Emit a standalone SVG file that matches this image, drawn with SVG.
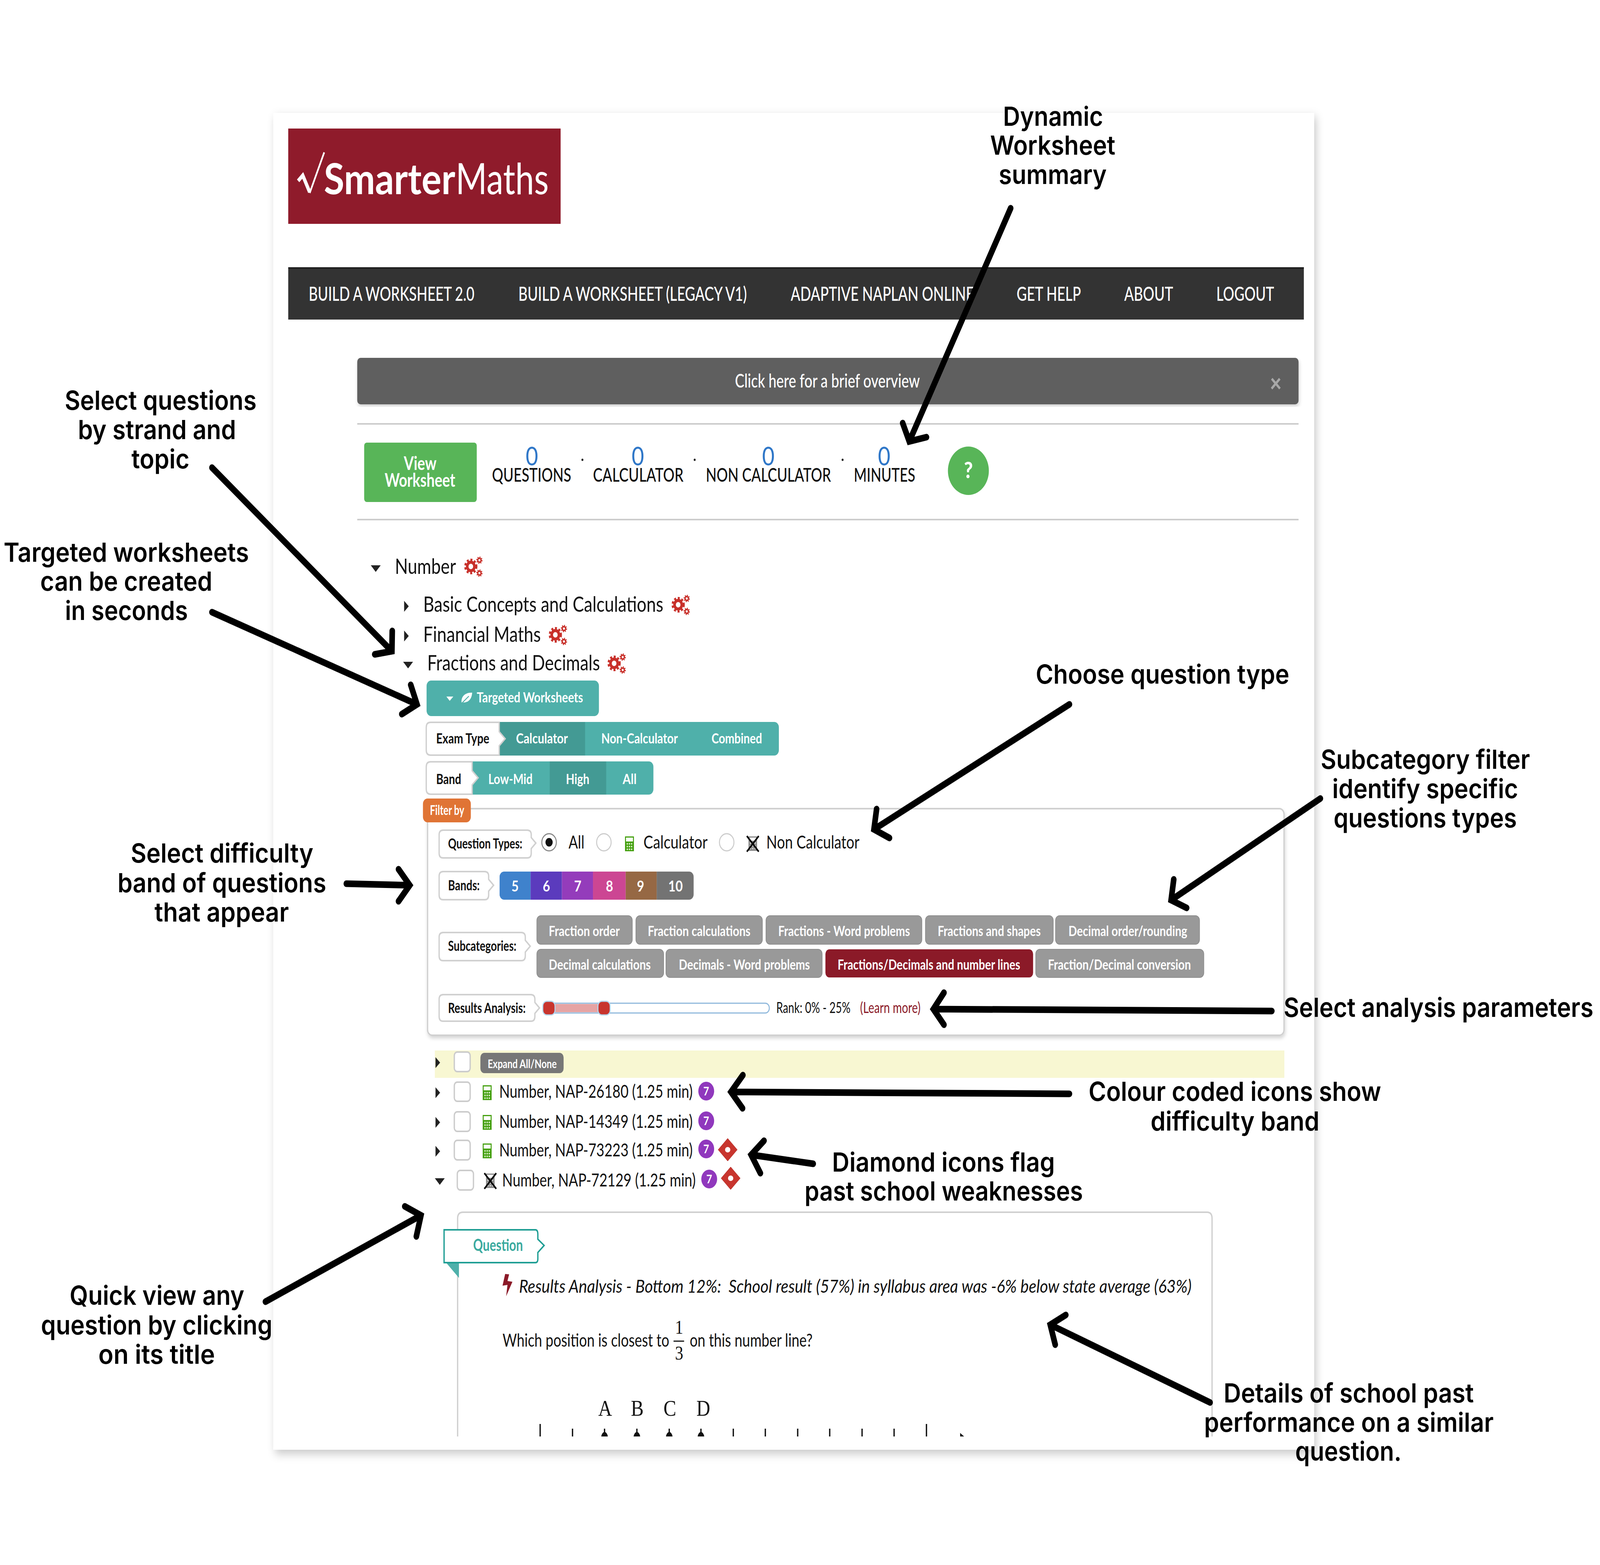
<svg xmlns="http://www.w3.org/2000/svg" width="4846" height="4006" viewBox="0 0 4846 4006" preserveAspectRatio="none">
<style>
svg{width:100vw;height:100vh;display:block}
text{font-family:"Lato","Liberation Sans",sans-serif;fill:#111}
.ann{font-family:"Inter","Open Sans",sans-serif;font-weight:600;font-size:68px;fill:#000}
.nav{font-size:50px;fill:#fff;font-weight:500}
.lab{font-size:49px;font-weight:500}
.num{font-size:65px;fill:#2f77c8;text-anchor:middle}
.tree{font-size:55px}
.tb{font-size:37px;font-weight:700;fill:#fff}
.tag{font-size:36px;font-weight:700;fill:#111}
.opt{font-size:46px}
.pill{font-size:37px;font-weight:700;fill:#fff}
.row{font-size:46px}
.q{font-size:47px}
.math{font-family:"Liberation Serif",serif;text-anchor:middle}
.band{font-size:38px;font-weight:700;fill:#fff;text-anchor:middle}
.seven{font-size:30px;font-weight:700;fill:#fff;text-anchor:middle}
.arw{fill:none;stroke:#000;stroke-width:17;stroke-linecap:round;stroke-linejoin:miter;stroke-miterlimit:8}
.gp{fill:#999;stroke:#8c8c8c;stroke-width:2}
.tagbox{fill:#fff;stroke:#d0d0d0;stroke-width:4}
.cb{fill:#fff;stroke:#ccc;stroke-width:4}
.rad{fill:#fff;stroke:#ccc;stroke-width:3}
.tri{fill:#222}
.tick{stroke:#111;stroke-width:4;fill:none}
.rule{stroke:#ccc;stroke-width:4}
</style>
<defs>
<filter id="pageShadow" x="-3%" y="-3%" width="106%" height="106%"><feDropShadow dx="6" dy="10" stdDeviation="12" flood-color="#000" flood-opacity="0.22"/></filter>
<filter id="softShadow" x="-3%" y="-5%" width="106%" height="110%"><feDropShadow dx="2" dy="6" stdDeviation="5" flood-color="#000" flood-opacity="0.16"/></filter>
<clipPath id="bandClip"><rect x="1513" y="2231" width="588" height="72" rx="14"/></clipPath>
<g id="gears">
<circle cx="20" cy="25" r="11" fill="none" stroke="#c8302a" stroke-width="8"/>
<circle cx="20" cy="25" r="17" fill="none" stroke="#c8302a" stroke-width="6" stroke-dasharray="6 5.2"/>
<circle cx="46" cy="9" r="5" fill="none" stroke="#c8302a" stroke-width="4"/>
<circle cx="46" cy="9" r="8" fill="none" stroke="#c8302a" stroke-width="3" stroke-dasharray="3 3.3"/>
<circle cx="46" cy="42" r="5" fill="none" stroke="#c8302a" stroke-width="4"/>
<circle cx="46" cy="42" r="8" fill="none" stroke="#c8302a" stroke-width="3" stroke-dasharray="3 3.3"/>
</g>
<g id="calc">
<rect x="1" y="1" width="27" height="38" fill="#45a010"/>
<rect x="4" y="4" width="21" height="10" fill="#fff"/>
<g fill="#d8efc8"><circle cx="8" cy="20" r="2.2"/><circle cx="14.500" cy="20" r="2.2"/><circle cx="21" cy="20" r="2.2"/><circle cx="8" cy="27" r="2.2"/><circle cx="14.500" cy="27" r="2.2"/><circle cx="21" cy="27" r="2.2"/><circle cx="8" cy="34" r="2.2"/><circle cx="14.500" cy="34" r="2.2"/><circle cx="21" cy="34" r="2.2"/></g>
</g>
<g id="xcalc">
<rect x="8" y="2" width="26" height="37" fill="#8a8a8a"/>
<rect x="11" y="5" width="20" height="8" fill="#fff"/>
<g fill="#ddd"><circle cx="14" cy="19" r="2"/><circle cx="21" cy="19" r="2"/><circle cx="28" cy="19" r="2"/><circle cx="14" cy="26" r="2"/><circle cx="21" cy="26" r="2"/><circle cx="28" cy="26" r="2"/><circle cx="14" cy="33" r="2"/><circle cx="21" cy="33" r="2"/><circle cx="28" cy="33" r="2"/></g>
<path d="M3 1L39 41M39 1L3 41" stroke="#000" stroke-width="4.500" fill="none"/>
</g>
<g id="badge7"><circle r="24" fill="#9038bd"/><text class="seven" y="11">7</text></g>
<g id="diamond"><path d="M0-29L29 0L0 29L-29 0Z" fill="#c8352e" stroke="#b02a25" stroke-width="1"/><ellipse rx="8" ry="7" fill="#fff"/></g>
<path id="triR" class="tri" d="M0-14L14 0L0 14Z"/>
<path id="triD" class="tri" d="M-15-8H15L0 9Z"/>
</defs>

<rect width="4846" height="4006" fill="#fff"/>
<rect id="page" x="828" y="289" width="3152" height="3422" fill="#fff" filter="url(#pageShadow)"/>

<g id="logo">
<rect x="873" y="329" width="825" height="244" fill="#8f1b2b"/>
<path d="M903 463L917 449L938 492" fill="none" stroke="#fff" stroke-width="10"/>
<path d="M938 494L982 390" fill="none" stroke="#fff" stroke-width="5"/>
<text x="981" y="497" font-size="110" font-weight="700" style="fill:#fff" textLength="398" lengthAdjust="spacingAndGlyphs">Smarter</text>
<text x="1380" y="497" font-size="110" font-weight="400" style="fill:#fff" textLength="282" lengthAdjust="spacingAndGlyphs">Maths</text>
</g>

<g id="navbar">
<rect x="873" y="684" width="3076" height="134" fill="#333"/>
<rect x="873" y="684" width="3076" height="4" fill="#1e1e1e"/>
<text class="nav" x="935" y="770" textLength="502" lengthAdjust="spacingAndGlyphs">BUILD A WORKSHEET 2.0</text>
<text class="nav" x="1570" y="770" textLength="692" lengthAdjust="spacingAndGlyphs">BUILD A WORKSHEET (LEGACY V1)</text>
<text class="nav" x="2395" y="770" textLength="555" lengthAdjust="spacingAndGlyphs">ADAPTIVE NAPLAN ONLINE</text>
<text class="nav" x="3079" y="770" textLength="195" lengthAdjust="spacingAndGlyphs">GET HELP</text>
<text class="nav" x="3405" y="770" textLength="148" lengthAdjust="spacingAndGlyphs">ABOUT</text>
<text class="nav" x="3684" y="770" textLength="175" lengthAdjust="spacingAndGlyphs">LOGOUT</text>
</g>

<g id="overview">
<rect x="1082" y="916" width="2851" height="119" rx="10" fill="#5e5e5e" filter="url(#softShadow)"/>
<text x="2226" y="992" font-size="48" font-weight="500" style="fill:#fff" textLength="560" lengthAdjust="spacingAndGlyphs">Click here for a brief overview</text>
<text x="3864" y="1003" font-size="62" font-weight="900" style="fill:#a8a8a8;text-anchor:middle">×</text>
</g>
<line class="rule" x1="1082" y1="1085" x2="3933" y2="1085"/>
<line class="rule" x1="1082" y1="1330" x2="3933" y2="1330"/>

<g id="summary">
<rect x="1103" y="1133" width="341" height="152" rx="8" fill="#58b558"/>
<text x="1223" y="1203" font-size="48" font-weight="700" style="fill:#fff" textLength="99" lengthAdjust="spacingAndGlyphs">View</text>
<text x="1165" y="1246" font-size="48" font-weight="700" style="fill:#fff" textLength="214" lengthAdjust="spacingAndGlyphs">Worksheet</text>
<text class="num" x="1611" y="1191">0</text>
<text class="num" x="1932" y="1191">0</text>
<text class="num" x="2327" y="1191">0</text>
<text class="num" x="2678" y="1191">0</text>
<text class="lab" x="1490" y="1233" textLength="240" lengthAdjust="spacingAndGlyphs">QUESTIONS</text>
<text class="lab" x="1796" y="1233" textLength="274" lengthAdjust="spacingAndGlyphs">CALCULATOR</text>
<text class="lab" x="2138" y="1233" textLength="379" lengthAdjust="spacingAndGlyphs">NON CALCULATOR</text>
<text class="lab" x="2586" y="1233" textLength="186" lengthAdjust="spacingAndGlyphs">MINUTES</text>
<circle cx="1764" cy="1177" r="3" fill="#222"/>
<circle cx="2104" cy="1177" r="3" fill="#222"/>
<circle cx="2552" cy="1177" r="3" fill="#222"/>
<circle cx="2933" cy="1205" r="62" fill="#58b558"/>
<text x="2933" y="1224" font-size="58" font-weight="900" style="fill:#fff;text-anchor:middle">?</text>
</g>

<g id="tree">
<use href="#triD" x="1138" y="1455"/>
<text class="tree" x="1196" y="1469" textLength="185" lengthAdjust="spacingAndGlyphs">Number</text>
<use href="#gears" x="1406" y="1425"/>
<use href="#triR" x="1224" y="1552"/>
<text class="tree" x="1282" y="1566" textLength="727" lengthAdjust="spacingAndGlyphs">Basic Concepts and Calculations</text>
<use href="#gears" x="2034" y="1523"/>
<use href="#triR" x="1224" y="1628"/>
<text class="tree" x="1282" y="1643" textLength="356" lengthAdjust="spacingAndGlyphs">Financial Maths</text>
<use href="#gears" x="1662" y="1600"/>
<use href="#triD" x="1236" y="1702"/>
<text class="tree" x="1294" y="1716" textLength="523" lengthAdjust="spacingAndGlyphs">Fractions and Decimals</text>
<use href="#gears" x="1840" y="1673"/>
</g>

<g id="targeted">
<rect x="1292" y="1742" width="522" height="91" rx="14" fill="#4fb0aa"/>
<path d="M1352 1783H1373L1362 1794Z" fill="#fff"/>
<path d="M1430 1773C1408 1772 1396 1784 1398 1798C1418 1800 1429 1790 1430 1773Z" fill="#fff"/>
<path d="M1400 1799L1420 1782" stroke="#4fb0aa" stroke-width="2.500" fill="none"/>
<text class="tb" x="1444" y="1798" textLength="322" lengthAdjust="spacingAndGlyphs">Targeted Worksheets</text>
</g>

<g id="examtype">
<rect x="1490" y="1848" width="869" height="86" rx="14" fill="#4fb0aa"/>
<rect x="1512" y="1848" width="260" height="86" fill="#439a94"/>
<path class="tagbox" d="M1304 1849H1512V1873L1530 1891L1512 1909V1933H1304Q1291 1933 1291 1920V1862Q1291 1849 1304 1849Z"/>
<text class="tag" x="1321" y="1903" textLength="161" lengthAdjust="spacingAndGlyphs">Exam Type</text>
<text class="tb" x="1563" y="1903" textLength="157" lengthAdjust="spacingAndGlyphs">Calculator</text>
<text class="tb" x="1821" y="1903" textLength="232" lengthAdjust="spacingAndGlyphs">Non-Calculator</text>
<text class="tb" x="2155" y="1903" textLength="153" lengthAdjust="spacingAndGlyphs">Combined</text>
</g>

<g id="band">
<rect x="1410" y="1949" width="569" height="85" rx="14" fill="#4fb0aa"/>
<rect x="1665" y="1949" width="171" height="85" fill="#439a94"/>
<path class="tagbox" d="M1304 1950H1430V1973L1448 1991L1430 2009V2033H1304Q1291 2033 1291 2020V1963Q1291 1950 1304 1950Z"/>
<text class="tag" x="1321" y="2007" textLength="76" lengthAdjust="spacingAndGlyphs">Band</text>
<text class="tb" x="1479" y="2007" textLength="134" lengthAdjust="spacingAndGlyphs">Low-Mid</text>
<text class="tb" x="1714" y="2007" textLength="71" lengthAdjust="spacingAndGlyphs">High</text>
<text class="tb" x="1886" y="2007" textLength="42" lengthAdjust="spacingAndGlyphs">All</text>
</g>

<g id="filterpanel">
<rect x="1295" y="2070" width="2594" height="580" rx="14" fill="#fff" stroke="#d0d0d0" stroke-width="4" filter="url(#softShadow)"/>
<rect x="1281" y="2044" width="145" height="61" rx="14" fill="#e07435"/>
<text x="1302" y="2086" font-size="35" font-weight="700" style="fill:#fff" textLength="104" lengthAdjust="spacingAndGlyphs">Filter by</text>

<path class="tagbox" d="M1342 2125H1597Q1609 2125 1609 2137V2144L1623 2158L1609 2172V2184Q1609 2196 1597 2196H1342Q1330 2196 1330 2184V2137Q1330 2125 1342 2125Z"/>
<text class="tag" x="1357" y="2172" textLength="225" lengthAdjust="spacingAndGlyphs">Question Types:</text>
<circle cx="1663" cy="2156" r="22" fill="#fff" stroke="#888" stroke-width="3"/>
<circle cx="1663" cy="2156" r="11" fill="#111"/>
<text class="opt" x="1722" y="2172" textLength="48" lengthAdjust="spacingAndGlyphs">All</text>
<circle class="rad" cx="1829" cy="2156" r="22"/>
<use href="#calc" x="1892" y="2140"/>
<text class="opt" x="1949" y="2172" textLength="194" lengthAdjust="spacingAndGlyphs">Calculator</text>
<circle class="rad" cx="2201" cy="2156" r="22"/>
<use href="#xcalc" x="2259" y="2139"/>
<text class="opt" x="2321" y="2172" textLength="282" lengthAdjust="spacingAndGlyphs">Non Calculator</text>

<path class="tagbox" d="M1342 2231H1468Q1480 2231 1480 2243V2251L1495 2266L1480 2281V2291Q1480 2303 1468 2303H1342Q1330 2303 1330 2291V2243Q1330 2231 1342 2231Z"/>
<text class="tag" x="1357" y="2279" textLength="96" lengthAdjust="spacingAndGlyphs">Bands:</text>
<g clip-path="url(#bandClip)">
<rect x="1513" y="2231" width="94" height="72" fill="#3f82cc"/>
<rect x="1607" y="2231" width="95" height="72" fill="#5b3bbd"/>
<rect x="1702" y="2231" width="94" height="72" fill="#943cbb"/>
<rect x="1796" y="2231" width="99" height="72" fill="#cc4693"/>
<rect x="1895" y="2231" width="94" height="72" fill="#966844"/>
<rect x="1989" y="2231" width="112" height="72" fill="#737373"/>
</g>
<text class="band" x="1560" y="2282">5</text>
<text class="band" x="1655" y="2282">6</text>
<text class="band" x="1750" y="2282">7</text>
<text class="band" x="1846" y="2282">8</text>
<text class="band" x="1940" y="2282">9</text>
<text class="band" x="2046" y="2282">10</text>

<path class="tagbox" d="M1342 2387H1579Q1591 2387 1591 2399V2407L1606 2422L1591 2437V2447Q1591 2459 1579 2459H1342Q1330 2459 1330 2447V2399Q1330 2387 1342 2387Z"/>
<text class="tag" x="1357" y="2434" textLength="207" lengthAdjust="spacingAndGlyphs">Subcategories:</text>

<rect class="gp" x="1626" y="2344" width="289" height="73" rx="12"/>
<rect class="gp" x="1926" y="2344" width="383" height="73" rx="12"/>
<rect class="gp" x="2320" y="2344" width="472" height="73" rx="12"/>
<rect class="gp" x="2803" y="2344" width="387" height="73" rx="12"/>
<rect class="gp" x="3197" y="2344" width="436" height="73" rx="12"/>
<rect class="gp" x="1626" y="2430" width="384" height="72" rx="12"/>
<rect class="gp" x="2017" y="2430" width="473" height="72" rx="12"/>
<rect x="2500" y="2430" width="629" height="72" rx="12" fill="#8b1a28"/>
<rect class="gp" x="3137" y="2430" width="509" height="72" rx="12"/>
<text class="pill" x="1662" y="2396" textLength="215" lengthAdjust="spacingAndGlyphs">Fraction order</text>
<text class="pill" x="1962" y="2396" textLength="311" lengthAdjust="spacingAndGlyphs">Fraction calculations</text>
<text class="pill" x="2357" y="2396" textLength="399" lengthAdjust="spacingAndGlyphs">Fractions - Word problems</text>
<text class="pill" x="2840" y="2396" textLength="312" lengthAdjust="spacingAndGlyphs">Fractions and shapes</text>
<text class="pill" x="3236" y="2396" textLength="360" lengthAdjust="spacingAndGlyphs">Decimal order/rounding</text>
<text class="pill" x="1662" y="2482" textLength="309" lengthAdjust="spacingAndGlyphs">Decimal calculations</text>
<text class="pill" x="2056" y="2482" textLength="397" lengthAdjust="spacingAndGlyphs">Decimals - Word problems</text>
<text class="pill" x="2537" y="2482" textLength="553" lengthAdjust="spacingAndGlyphs">Fractions/Decimals and number lines</text>
<text class="pill" x="3174" y="2482" textLength="433" lengthAdjust="spacingAndGlyphs">Fraction/Decimal conversion</text>

<path class="tagbox" d="M1342 2546H1608Q1620 2546 1620 2558V2566L1634 2580L1620 2594V2602Q1620 2614 1608 2614H1342Q1330 2614 1330 2602V2558Q1330 2546 1342 2546Z"/>
<text class="tag" x="1357" y="2593" textLength="235" lengthAdjust="spacingAndGlyphs">Results Analysis:</text>
<rect x="1647" y="2568" width="683" height="25" rx="12" fill="#fff" stroke="#8fb8dc" stroke-width="3"/>
<rect x="1662" y="2570" width="167" height="21" fill="#e6a4a4"/>
<rect x="1644" y="2563" width="37" height="35" rx="12" fill="#c8352e" stroke="#b5d8ef" stroke-width="3"/>
<rect x="1811" y="2563" width="37" height="35" rx="12" fill="#c8352e" stroke="#b5d8ef" stroke-width="3"/>
<text x="2351" y="2593" font-size="39" textLength="225" lengthAdjust="spacingAndGlyphs">Rank: 0% - 25%</text>
<text x="2605" y="2593" font-size="39" style="fill:#8b1a28" textLength="183" lengthAdjust="spacingAndGlyphs">(Learn more)</text>
</g>

<g id="questionlist">
<rect x="1317" y="2689" width="2573" height="70" fill="#f8f7d2"/>
<use href="#triR" x="1319" y="2720"/>
<rect class="cb" x="1376" y="2693" width="48" height="50" rx="9"/>
<rect x="1455" y="2695" width="252" height="52" rx="12" fill="#777"/>
<text x="1477" y="2734" font-size="31" font-weight="700" style="fill:#fff" textLength="209" lengthAdjust="spacingAndGlyphs">Expand All/None</text>

<use href="#triR" x="1319" y="2797"/>
<rect class="cb" x="1376" y="2770" width="48" height="49" rx="9"/>
<use href="#calc" x="1461" y="2777"/>
<text class="row" x="1512" y="2810" textLength="586" lengthAdjust="spacingAndGlyphs">Number, NAP-26180 (1.25 min)</text>
<use href="#badge7" x="2139" y="2793"/>

<use href="#triR" x="1319" y="2873"/>
<rect class="cb" x="1376" y="2846" width="48" height="50" rx="9"/>
<use href="#calc" x="1461" y="2853"/>
<text class="row" x="1512" y="2887" textLength="586" lengthAdjust="spacingAndGlyphs">Number, NAP-14349 (1.25 min)</text>
<use href="#badge7" x="2139" y="2869"/>

<use href="#triR" x="1319" y="2947"/>
<rect class="cb" x="1376" y="2919" width="48" height="50" rx="9"/>
<use href="#calc" x="1461" y="2926"/>
<text class="row" x="1512" y="2960" textLength="586" lengthAdjust="spacingAndGlyphs">Number, NAP-73223 (1.25 min)</text>
<use href="#badge7" x="2139" y="2941"/>
<use href="#diamond" x="2204" y="2943"/>

<use href="#triD" x="1332" y="3024"/>
<rect class="cb" x="1385" y="2996" width="49" height="50" rx="9"/>
<use href="#xcalc" x="1464" y="3002"/>
<text class="row" x="1521" y="3037" textLength="586" lengthAdjust="spacingAndGlyphs">Number, NAP-72129 (1.25 min)</text>
<use href="#badge7" x="2148" y="3018"/>
<use href="#diamond" x="2213" y="3016"/>
</g>

<g id="questioncard">
<path d="M1386 3677V3119Q1386 3103 1402 3103H3656Q3671 3103 3671 3119V3677" fill="#fff" stroke="#d0d0d0" stroke-width="4"/>
<path d="M1351 3232H1390V3271Z" fill="#4fb0aa"/>
<path d="M1345 3148H1622Q1629 3148 1629 3160V3172L1648 3188L1629 3206V3222Q1629 3232 1622 3232H1345Z" fill="#fff" stroke="#1f9e94" stroke-width="4"/>
<text x="1433" y="3202" font-size="42" font-weight="700" style="fill:#3aaa9f" textLength="151" lengthAdjust="spacingAndGlyphs">Question</text>
<path d="M1530 3261L1542 3262L1537 3279L1552 3281L1533 3318L1537 3289L1522 3291Z" fill="#8b1a28"/>
<text class="q" x="1572" y="3309" font-style="italic" xml:space="preserve" textLength="2037" lengthAdjust="spacingAndGlyphs">Results Analysis - Bottom 12%:  School result (57%) in syllabus area was -6% below state average (63%)</text>
<text class="q" x="1522" y="3447" textLength="505" lengthAdjust="spacingAndGlyphs">Which position is closest to</text>
<text class="math" x="2057" y="3414" font-size="50">1</text>
<line x1="2040" y1="3433" x2="2072" y2="3433" stroke="#111" stroke-width="3"/>
<text class="math" x="2057" y="3480" font-size="50">3</text>
<text class="q" x="2089" y="3447" textLength="372" lengthAdjust="spacingAndGlyphs">on this number line?</text>
<text class="math" x="1833" y="3624" font-size="58">A</text>
<text class="math" x="1930" y="3624" font-size="58">B</text>
<text class="math" x="2029" y="3624" font-size="58">C</text>
<text class="math" x="2130" y="3624" font-size="58">D</text>
<path class="tick" d="M1636 3645V3677M1734 3657V3677M1831 3657V3677M1929 3657V3677M2027 3657V3677M2123 3657V3677M2221 3657V3677M2318 3657V3677M2416 3657V3677M2513 3657V3677M2611 3657V3677M2708 3657V3677M2806 3645V3677"/>
<path d="M1821 3677Q1823 3667 1831 3665Q1839 3667 1841 3677ZM1919 3677Q1921 3667 1929 3665Q1937 3667 1939 3677ZM2017 3677Q2019 3667 2027 3665Q2035 3667 2037 3677ZM2113 3677Q2115 3667 2123 3665Q2131 3667 2133 3677ZM2908 3668L2920 3677H2908Z" fill="#111"/>
</g>

<g id="connectors">
<path class="arw" d="M3061 533L2754 1130M2734 1083L2754 1130L2806 1119"/>
<path class="arw" d="M642 1197L1187 1667M1188 1615L1187 1667L1135 1675"/>
<path class="arw" d="M642 1567L1263 1803M1244 1753L1263 1803L1217 1828"/>
<path class="arw" d="M1049 2262L1241 2266M1207 2225L1241 2266L1207 2307"/>
<path class="arw" d="M3239 1803L2647 2123M2655 2071L2647 2123L2694 2145"/>
<path class="arw" d="M3999 2044L3547 2304M3555 2251L3547 2304L3594 2324"/>
<path class="arw" d="M3852 2588L2827 2583M2859 2541L2827 2583L2859 2623"/>
<path class="arw" d="M3239 2800L2214 2795M2250 2752L2214 2795L2249 2837"/>
<path class="arw" d="M2463 2979L2275 2956M2314 2920L2275 2956L2303 3003"/>
<path class="arw" d="M804 3332L1275 3111M1226 3088L1275 3111L1261 3165"/>
<path class="arw" d="M3665 3590L3181 3391M3228 3366L3181 3391L3196 3442"/>
</g>

<g id="annotations">
<g id="note-dynamic">
<text class="ann" x="3038" y="322" textLength="303" lengthAdjust="spacingAndGlyphs">Dynamic</text>
<text class="ann" x="2999" y="396" textLength="379" lengthAdjust="spacingAndGlyphs">Worksheet</text>
<text class="ann" x="3025" y="471" textLength="327" lengthAdjust="spacingAndGlyphs">summary</text>
</g>
<g id="note-strand">
<text class="ann" x="196" y="1049" textLength="581" lengthAdjust="spacingAndGlyphs">Select questions</text>
<text class="ann" x="236" y="1124" textLength="479" lengthAdjust="spacingAndGlyphs">by strand and</text>
<text class="ann" x="398" y="1199" textLength="176" lengthAdjust="spacingAndGlyphs">topic</text>
</g>
<g id="note-targeted">
<text class="ann" x="11" y="1438" textLength="743" lengthAdjust="spacingAndGlyphs">Targeted worksheets</text>
<text class="ann" x="122" y="1512" textLength="521" lengthAdjust="spacingAndGlyphs">can be created</text>
<text class="ann" x="197" y="1587" textLength="372" lengthAdjust="spacingAndGlyphs">in seconds</text>
</g>
<g id="note-difficulty">
<text class="ann" x="396" y="2208" textLength="553" lengthAdjust="spacingAndGlyphs">Select difficulty</text>
<text class="ann" x="356" y="2284" textLength="632" lengthAdjust="spacingAndGlyphs">band of questions</text>
<text class="ann" x="468" y="2359" textLength="407" lengthAdjust="spacingAndGlyphs">that appear</text>
</g>
<g id="note-quickview">
<text class="ann" x="211" y="3340" textLength="529" lengthAdjust="spacingAndGlyphs">Quick view any</text>
<text class="ann" x="124" y="3416" textLength="701" lengthAdjust="spacingAndGlyphs">question by clicking</text>
<text class="ann" x="298" y="3491" textLength="353" lengthAdjust="spacingAndGlyphs">on its title</text>
</g>
<g id="note-type">
<text class="ann" x="3137" y="1750" textLength="768" lengthAdjust="spacingAndGlyphs">Choose question type</text>
</g>
<g id="note-subcat">
<text class="ann" x="4000" y="1968" textLength="634" lengthAdjust="spacingAndGlyphs">Subcategory filter</text>
<text class="ann" x="4035" y="2043" textLength="563" lengthAdjust="spacingAndGlyphs">identify specific</text>
<text class="ann" x="4039" y="2118" textLength="555" lengthAdjust="spacingAndGlyphs">questions types</text>
</g>
<g id="note-analysis">
<text class="ann" x="3888" y="2603" textLength="938" lengthAdjust="spacingAndGlyphs">Select analysis parameters</text>
</g>
<g id="note-colour">
<text class="ann" x="3297" y="2818" textLength="886" lengthAdjust="spacingAndGlyphs">Colour coded icons show</text>
<text class="ann" x="3485" y="2894" textLength="511" lengthAdjust="spacingAndGlyphs">difficulty band</text>
</g>
<g id="note-diamond">
<text class="ann" x="2520" y="2999" textLength="675" lengthAdjust="spacingAndGlyphs">Diamond icons flag</text>
<text class="ann" x="2437" y="3073" textLength="843" lengthAdjust="spacingAndGlyphs">past school weaknesses</text>
</g>
<g id="note-details">
<text class="ann" x="3706" y="3590" textLength="758" lengthAdjust="spacingAndGlyphs">Details of school past</text>
<text class="ann" x="3647" y="3665" textLength="877" lengthAdjust="spacingAndGlyphs">performance on a similar</text>
<text class="ann" x="3923" y="3739" textLength="322" lengthAdjust="spacingAndGlyphs">question.</text>
</g>
</g>
</svg>
